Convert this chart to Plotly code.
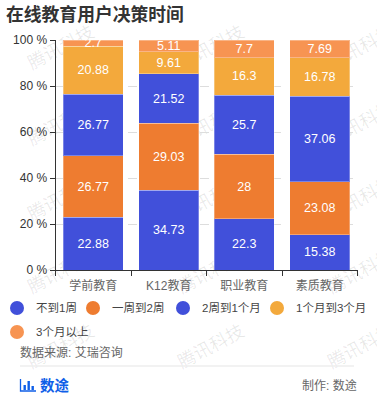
import plotly.graph_objects as go

categories = ["学前教育", "K12教育", "职业教育", "素质教育"]
series_names = ["不到1周", "一周到2周", "2周到1个月", "1个月到3个月", "3个月以上"]
less_1w = [22.88, 34.73, 22.3, 15.38]
w1_to_w2 = [26.77, 29.03, 28, 23.08]
w2_to_m1 = [26.77, 21.52, 25.7, 37.06]
m1_to_m3 = [20.88, 9.61, 16.3, 16.78]
over_m3 = [2.7, 5.11, 7.7, 7.69]
y_ticks = [0, 20, 40, 60, 80, 100]
y_tick_labels = ["0 %", "20 %", "40 %", "60 %", "80 %", "100 %"]
colors = ["#4150DA", "#EE7C30", "#4150DA", "#F3A93C", "#F79452"]

W, H = 377, 400
FONT = "Liberation Sans, Noto Sans CJK SC, sans-serif"
px = lambda x: x / W
py = lambda y: 1 - y / H

fig = go.Figure()
for name, vals, col in zip(series_names, [less_1w, w1_to_w2, w2_to_m1, m1_to_m3, over_m3], colors):
    fig.add_trace(go.Bar(
        x=categories, y=vals, name=name, marker=dict(color=col, line=dict(color="rgba(255,255,255,0.3)", width=1)),
        text=vals, textposition="inside", insidetextanchor="middle", constraintext="none", textangle=0,
        texttemplate="%{text}", insidetextfont=dict(color="white", size=12.5, family=FONT),
        showlegend=False, hoverinfo="skip"))

annotations = []
shapes = []

def label(text, x, y, size, color, anchor="left", bold=False):
    annotations.append(dict(
        text=f"<b>{text}</b>" if bold else text, x=px(x), y=py(y), xref="paper", yref="paper",
        xanchor=anchor, yanchor="middle", showarrow=False,
        font=dict(size=size, color=color, family=FONT)))

# watermark, as labels of invisible line shapes so that it can run off the page
for wy in [46, 122, 197, 270, 345]:
    for wx in [60, 210, 360]:
        shapes.append(dict(type="line", xref="paper", yref="paper", layer="below",
                           x0=px(wx - 30), x1=px(wx + 30), y0=py(wy + 16), y1=py(wy - 16),
                           line=dict(width=0, color="rgba(0,0,0,0)"),
                           label=dict(text="腾讯科技", textangle=-28, textposition="middle",
                                      xanchor="center", yanchor="middle",
                                      font=dict(size=18, color="rgba(0,0,0,0.09)", family=FONT))))

label("在线教育用户决策时间", 4, 15, 17.8, "#333333", bold=True)

# legend
legend_pos = [(17, 308), (93, 308), (183, 308), (277, 308), (17, 332)]
for (lx, ly), name, col in zip(legend_pos, series_names, colors):
    shapes.append(dict(type="circle", xref="paper", yref="paper", x0=px(lx - 7), x1=px(lx + 7),
                       y0=py(ly + 7), y1=py(ly - 7), fillcolor=col, line=dict(width=0)))
    label(name, lx + 16.5, ly, 11.5, "#444444")

label("数据来源: 艾瑞咨询", 18, 352, 12, "#666666")
shapes.append(dict(type="line", xref="paper", yref="paper", x0=px(20), x1=px(354), y0=py(366), y1=py(366),
                   line=dict(color="#EEEEEE", width=1.5)))

# footer logo
brand = "#0F5FE8"
shapes.append(dict(type="path", xref="paper", yref="paper", line=dict(color=brand, width=1.3),
                   path=f"M {px(20.5)} {py(379)} L {px(20.5)} {py(391)} L {px(36)} {py(391)}"))
for x0, top in [(23.5, 385), (27.5, 381), (31.5, 386)]:
    shapes.append(dict(type="rect", xref="paper", yref="paper", x0=px(x0), x1=px(x0 + 2.4),
                       y0=py(390), y1=py(top), fillcolor=brand, line=dict(width=0)))
label("数途", 38, 385, 14.5, brand, bold=True)
label("制作: 数途", 359, 385, 12, "#666666", "right")

fig.update_layout(
    width=W, height=H, autosize=False, barmode="stack", bargap=0.2,
    margin=dict(l=0, r=0, t=0, b=0), plot_bgcolor="rgba(0,0,0,0)", paper_bgcolor="white",
    showlegend=False, annotations=annotations, shapes=shapes,
    font=dict(family=FONT),
    xaxis=dict(domain=[px(55.5), px(357.5)], tickson="boundaries", ticks="outside", ticklen=5, tickcolor="#333333",
               showline=True, linecolor="#333333", linewidth=1, tickfont=dict(size=12, color="#666666"),
               ticklabelstandoff=5, showgrid=False, fixedrange=True, automargin=False),
    yaxis=dict(domain=[py(270), py(40)], range=[0, 100], tickvals=y_ticks, ticktext=y_tick_labels, ticks="outside",
               ticklen=5, tickcolor="#333333", showline=True, linecolor="#333333", linewidth=1,
               tickfont=dict(size=12, color="#333333"), showgrid=True, gridcolor="#DDDDDD", griddash="dash",
               zeroline=False, fixedrange=True, automargin=False),
)
fig.write_html("out.html", config=dict(displayModeBar=False),
               post_script="document.body.style.margin='0';document.body.style.overflow='hidden';")
